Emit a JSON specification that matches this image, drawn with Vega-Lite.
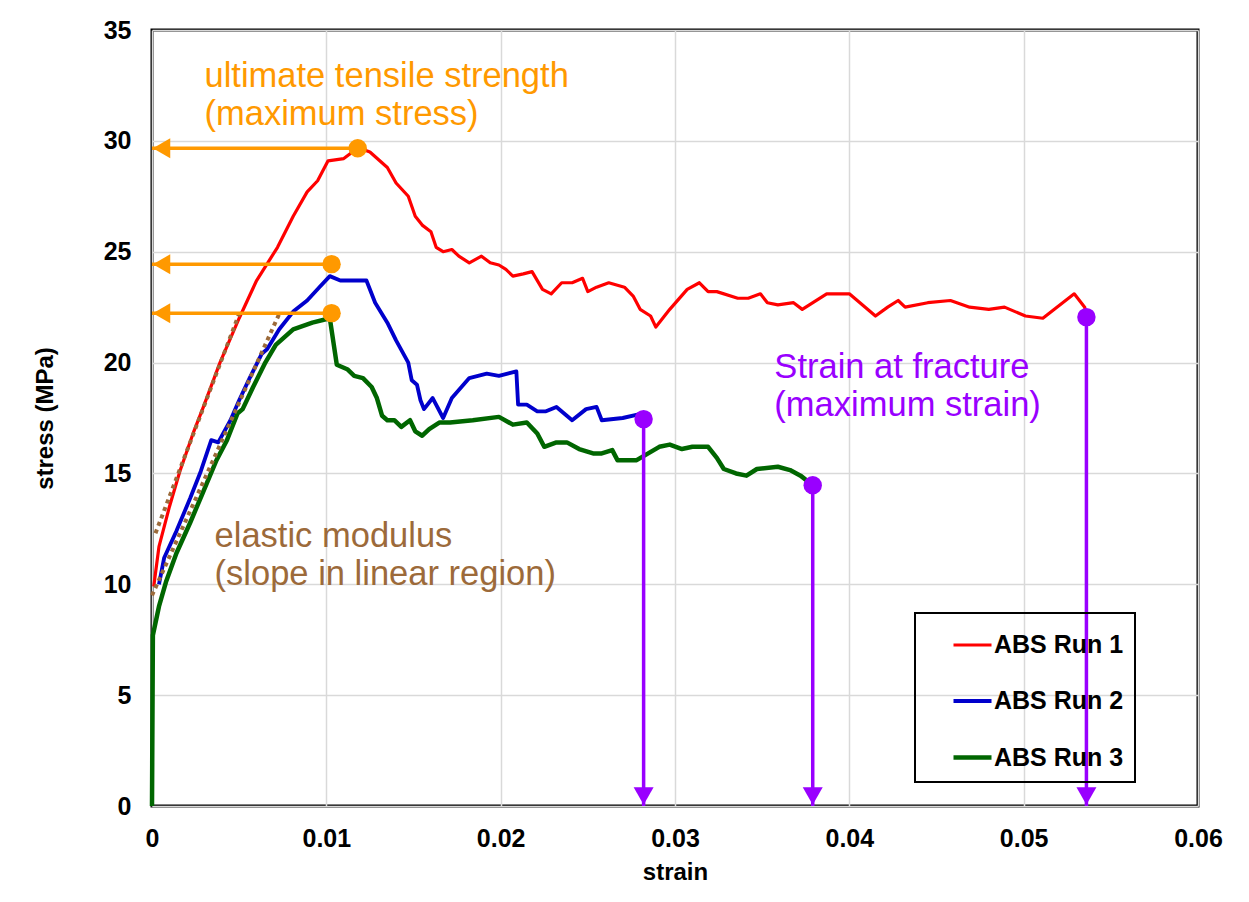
{
  "$schema": "https://vega.github.io/schema/vega-lite/v6.json",
  "width": 1046,
  "height": 776,
  "autosize": "none",
  "padding": {"left": 152, "top": 30, "right": 51, "bottom": 96},
  "background": "white",
  "config": {
    "font": "Liberation Sans",
    "view": {"stroke": "black", "strokeWidth": 3},
    "axis": {
      "labelFont": "Liberation Sans", "labelFontSize": 25, "labelFontWeight": "bold", "labelColor": "black",
      "titleFont": "Liberation Sans", "titleFontSize": 24, "titleFontWeight": "bold", "titleColor": "black",
      "gridColor": "#d9d9d9", "gridWidth": 1.5, "domain": false, "ticks": false, "tickSize": 0, "labelFlush": false
    },
    "legend": {"strokeColor": "black", "strokeWidth": 2}
  },
  "datasets": {
    "curves": [
      {"run": "ABS Run 1", "strain": 0.0001, "stress": 9.9},
      {"run": "ABS Run 1", "strain": 0.0004, "stress": 11.7},
      {"run": "ABS Run 1", "strain": 0.0010, "stress": 13.5},
      {"run": "ABS Run 1", "strain": 0.0016, "stress": 15.1},
      {"run": "ABS Run 1", "strain": 0.0024, "stress": 16.9},
      {"run": "ABS Run 1", "strain": 0.0029, "stress": 17.9},
      {"run": "ABS Run 1", "strain": 0.0039, "stress": 20.0},
      {"run": "ABS Run 1", "strain": 0.0050, "stress": 22.0},
      {"run": "ABS Run 1", "strain": 0.0060, "stress": 23.7},
      {"run": "ABS Run 1", "strain": 0.0072, "stress": 25.2},
      {"run": "ABS Run 1", "strain": 0.0081, "stress": 26.6},
      {"run": "ABS Run 1", "strain": 0.0089, "stress": 27.7},
      {"run": "ABS Run 1", "strain": 0.0095, "stress": 28.2},
      {"run": "ABS Run 1", "strain": 0.0101, "stress": 29.1},
      {"run": "ABS Run 1", "strain": 0.0110, "stress": 29.2},
      {"run": "ABS Run 1", "strain": 0.0115, "stress": 29.5},
      {"run": "ABS Run 1", "strain": 0.0118, "stress": 29.7},
      {"run": "ABS Run 1", "strain": 0.0125, "stress": 29.5},
      {"run": "ABS Run 1", "strain": 0.0135, "stress": 28.8},
      {"run": "ABS Run 1", "strain": 0.0140, "stress": 28.1},
      {"run": "ABS Run 1", "strain": 0.0147, "stress": 27.5},
      {"run": "ABS Run 1", "strain": 0.0151, "stress": 26.6},
      {"run": "ABS Run 1", "strain": 0.0155, "stress": 26.2},
      {"run": "ABS Run 1", "strain": 0.0160, "stress": 25.9},
      {"run": "ABS Run 1", "strain": 0.0163, "stress": 25.2},
      {"run": "ABS Run 1", "strain": 0.0167, "stress": 25.0},
      {"run": "ABS Run 1", "strain": 0.0172, "stress": 25.1},
      {"run": "ABS Run 1", "strain": 0.0176, "stress": 24.8},
      {"run": "ABS Run 1", "strain": 0.0182, "stress": 24.5},
      {"run": "ABS Run 1", "strain": 0.0189, "stress": 24.8},
      {"run": "ABS Run 1", "strain": 0.0194, "stress": 24.5},
      {"run": "ABS Run 1", "strain": 0.0199, "stress": 24.4},
      {"run": "ABS Run 1", "strain": 0.0203, "stress": 24.2},
      {"run": "ABS Run 1", "strain": 0.0207, "stress": 23.9},
      {"run": "ABS Run 1", "strain": 0.0213, "stress": 24.0},
      {"run": "ABS Run 1", "strain": 0.0218, "stress": 24.1},
      {"run": "ABS Run 1", "strain": 0.0224, "stress": 23.3},
      {"run": "ABS Run 1", "strain": 0.0229, "stress": 23.1},
      {"run": "ABS Run 1", "strain": 0.0235, "stress": 23.6},
      {"run": "ABS Run 1", "strain": 0.0241, "stress": 23.6},
      {"run": "ABS Run 1", "strain": 0.0247, "stress": 23.8},
      {"run": "ABS Run 1", "strain": 0.0250, "stress": 23.2},
      {"run": "ABS Run 1", "strain": 0.0255, "stress": 23.4},
      {"run": "ABS Run 1", "strain": 0.0262, "stress": 23.6},
      {"run": "ABS Run 1", "strain": 0.0271, "stress": 23.4},
      {"run": "ABS Run 1", "strain": 0.0276, "stress": 23.0},
      {"run": "ABS Run 1", "strain": 0.0280, "stress": 22.4},
      {"run": "ABS Run 1", "strain": 0.0286, "stress": 22.1},
      {"run": "ABS Run 1", "strain": 0.0289, "stress": 21.6},
      {"run": "ABS Run 1", "strain": 0.0297, "stress": 22.4},
      {"run": "ABS Run 1", "strain": 0.0307, "stress": 23.3},
      {"run": "ABS Run 1", "strain": 0.0314, "stress": 23.6},
      {"run": "ABS Run 1", "strain": 0.0319, "stress": 23.2},
      {"run": "ABS Run 1", "strain": 0.0324, "stress": 23.2},
      {"run": "ABS Run 1", "strain": 0.0336, "stress": 22.9},
      {"run": "ABS Run 1", "strain": 0.0342, "stress": 22.9},
      {"run": "ABS Run 1", "strain": 0.0349, "stress": 23.1},
      {"run": "ABS Run 1", "strain": 0.0353, "stress": 22.7},
      {"run": "ABS Run 1", "strain": 0.0359, "stress": 22.6},
      {"run": "ABS Run 1", "strain": 0.0368, "stress": 22.7},
      {"run": "ABS Run 1", "strain": 0.0373, "stress": 22.4},
      {"run": "ABS Run 1", "strain": 0.0387, "stress": 23.1},
      {"run": "ABS Run 1", "strain": 0.0400, "stress": 23.1},
      {"run": "ABS Run 1", "strain": 0.0415, "stress": 22.1},
      {"run": "ABS Run 1", "strain": 0.0422, "stress": 22.5},
      {"run": "ABS Run 1", "strain": 0.0428, "stress": 22.8},
      {"run": "ABS Run 1", "strain": 0.0432, "stress": 22.5},
      {"run": "ABS Run 1", "strain": 0.0445, "stress": 22.7},
      {"run": "ABS Run 1", "strain": 0.0458, "stress": 22.8},
      {"run": "ABS Run 1", "strain": 0.0469, "stress": 22.5},
      {"run": "ABS Run 1", "strain": 0.0480, "stress": 22.4},
      {"run": "ABS Run 1", "strain": 0.0489, "stress": 22.5},
      {"run": "ABS Run 1", "strain": 0.0501, "stress": 22.1},
      {"run": "ABS Run 1", "strain": 0.0511, "stress": 22.0},
      {"run": "ABS Run 1", "strain": 0.0529, "stress": 23.1},
      {"run": "ABS Run 1", "strain": 0.0535, "stress": 22.5},
      {"run": "ABS Run 1", "strain": 0.0536, "stress": 22.05},
      {"run": "ABS Run 2", "strain": 0.0004, "stress": 10.0},
      {"run": "ABS Run 2", "strain": 0.0007, "stress": 11.2},
      {"run": "ABS Run 2", "strain": 0.0014, "stress": 12.4},
      {"run": "ABS Run 2", "strain": 0.0022, "stress": 13.9},
      {"run": "ABS Run 2", "strain": 0.0028, "stress": 15.1},
      {"run": "ABS Run 2", "strain": 0.0034, "stress": 16.5},
      {"run": "ABS Run 2", "strain": 0.0038, "stress": 16.4},
      {"run": "ABS Run 2", "strain": 0.0045, "stress": 17.4},
      {"run": "ABS Run 2", "strain": 0.0050, "stress": 18.3},
      {"run": "ABS Run 2", "strain": 0.0056, "stress": 19.3},
      {"run": "ABS Run 2", "strain": 0.0063, "stress": 20.4},
      {"run": "ABS Run 2", "strain": 0.0066, "stress": 20.6},
      {"run": "ABS Run 2", "strain": 0.0073, "stress": 21.5},
      {"run": "ABS Run 2", "strain": 0.0081, "stress": 22.3},
      {"run": "ABS Run 2", "strain": 0.0089, "stress": 22.8},
      {"run": "ABS Run 2", "strain": 0.0096, "stress": 23.4},
      {"run": "ABS Run 2", "strain": 0.0102, "stress": 23.9},
      {"run": "ABS Run 2", "strain": 0.0108, "stress": 23.7},
      {"run": "ABS Run 2", "strain": 0.0123, "stress": 23.7},
      {"run": "ABS Run 2", "strain": 0.0128, "stress": 22.7},
      {"run": "ABS Run 2", "strain": 0.0135, "stress": 21.8},
      {"run": "ABS Run 2", "strain": 0.0140, "stress": 21.0},
      {"run": "ABS Run 2", "strain": 0.0147, "stress": 20.0},
      {"run": "ABS Run 2", "strain": 0.0149, "stress": 19.2},
      {"run": "ABS Run 2", "strain": 0.0152, "stress": 19.0},
      {"run": "ABS Run 2", "strain": 0.0154, "stress": 18.3},
      {"run": "ABS Run 2", "strain": 0.0156, "stress": 17.9},
      {"run": "ABS Run 2", "strain": 0.0161, "stress": 18.4},
      {"run": "ABS Run 2", "strain": 0.0167, "stress": 17.5},
      {"run": "ABS Run 2", "strain": 0.0172, "stress": 18.4},
      {"run": "ABS Run 2", "strain": 0.0182, "stress": 19.3},
      {"run": "ABS Run 2", "strain": 0.0192, "stress": 19.5},
      {"run": "ABS Run 2", "strain": 0.0199, "stress": 19.4},
      {"run": "ABS Run 2", "strain": 0.0209, "stress": 19.6},
      {"run": "ABS Run 2", "strain": 0.0210, "stress": 18.1},
      {"run": "ABS Run 2", "strain": 0.0215, "stress": 18.1},
      {"run": "ABS Run 2", "strain": 0.0221, "stress": 17.8},
      {"run": "ABS Run 2", "strain": 0.0226, "stress": 17.8},
      {"run": "ABS Run 2", "strain": 0.0232, "stress": 18.0},
      {"run": "ABS Run 2", "strain": 0.0241, "stress": 17.4},
      {"run": "ABS Run 2", "strain": 0.0249, "stress": 17.9},
      {"run": "ABS Run 2", "strain": 0.0255, "stress": 18.0},
      {"run": "ABS Run 2", "strain": 0.0258, "stress": 17.4},
      {"run": "ABS Run 2", "strain": 0.0270, "stress": 17.5},
      {"run": "ABS Run 2", "strain": 0.0281, "stress": 17.7},
      {"run": "ABS Run 2", "strain": 0.0282, "stress": 17.45},
      {"run": "ABS Run 3", "strain": 0.0, "stress": 0.0},
      {"run": "ABS Run 3", "strain": 0.00005, "stress": 7.7},
      {"run": "ABS Run 3", "strain": 0.0004, "stress": 9.0},
      {"run": "ABS Run 3", "strain": 0.0008, "stress": 10.1},
      {"run": "ABS Run 3", "strain": 0.0014, "stress": 11.4},
      {"run": "ABS Run 3", "strain": 0.0022, "stress": 12.8},
      {"run": "ABS Run 3", "strain": 0.0029, "stress": 14.1},
      {"run": "ABS Run 3", "strain": 0.0037, "stress": 15.6},
      {"run": "ABS Run 3", "strain": 0.0043, "stress": 16.5},
      {"run": "ABS Run 3", "strain": 0.0049, "stress": 17.7},
      {"run": "ABS Run 3", "strain": 0.0052, "stress": 17.9},
      {"run": "ABS Run 3", "strain": 0.0058, "stress": 18.9},
      {"run": "ABS Run 3", "strain": 0.0065, "stress": 20.0},
      {"run": "ABS Run 3", "strain": 0.0071, "stress": 20.8},
      {"run": "ABS Run 3", "strain": 0.0081, "stress": 21.5},
      {"run": "ABS Run 3", "strain": 0.0092, "stress": 21.8},
      {"run": "ABS Run 3", "strain": 0.0102, "stress": 22.0},
      {"run": "ABS Run 3", "strain": 0.0106, "stress": 19.9},
      {"run": "ABS Run 3", "strain": 0.0112, "stress": 19.7},
      {"run": "ABS Run 3", "strain": 0.0116, "stress": 19.4},
      {"run": "ABS Run 3", "strain": 0.0121, "stress": 19.3},
      {"run": "ABS Run 3", "strain": 0.0126, "stress": 18.9},
      {"run": "ABS Run 3", "strain": 0.0129, "stress": 18.4},
      {"run": "ABS Run 3", "strain": 0.0132, "stress": 17.6},
      {"run": "ABS Run 3", "strain": 0.0135, "stress": 17.4},
      {"run": "ABS Run 3", "strain": 0.0139, "stress": 17.4},
      {"run": "ABS Run 3", "strain": 0.0143, "stress": 17.1},
      {"run": "ABS Run 3", "strain": 0.0148, "stress": 17.4},
      {"run": "ABS Run 3", "strain": 0.0151, "stress": 16.9},
      {"run": "ABS Run 3", "strain": 0.0155, "stress": 16.7},
      {"run": "ABS Run 3", "strain": 0.0159, "stress": 17.0},
      {"run": "ABS Run 3", "strain": 0.0165, "stress": 17.3},
      {"run": "ABS Run 3", "strain": 0.0171, "stress": 17.3},
      {"run": "ABS Run 3", "strain": 0.0184, "stress": 17.4},
      {"run": "ABS Run 3", "strain": 0.0199, "stress": 17.55},
      {"run": "ABS Run 3", "strain": 0.0207, "stress": 17.2},
      {"run": "ABS Run 3", "strain": 0.0215, "stress": 17.3},
      {"run": "ABS Run 3", "strain": 0.0221, "stress": 16.8},
      {"run": "ABS Run 3", "strain": 0.0225, "stress": 16.2},
      {"run": "ABS Run 3", "strain": 0.0232, "stress": 16.4},
      {"run": "ABS Run 3", "strain": 0.0238, "stress": 16.4},
      {"run": "ABS Run 3", "strain": 0.0245, "stress": 16.1},
      {"run": "ABS Run 3", "strain": 0.0253, "stress": 15.9},
      {"run": "ABS Run 3", "strain": 0.0258, "stress": 15.9},
      {"run": "ABS Run 3", "strain": 0.0264, "stress": 16.05},
      {"run": "ABS Run 3", "strain": 0.0267, "stress": 15.6},
      {"run": "ABS Run 3", "strain": 0.0278, "stress": 15.6},
      {"run": "ABS Run 3", "strain": 0.0291, "stress": 16.2},
      {"run": "ABS Run 3", "strain": 0.0297, "stress": 16.3},
      {"run": "ABS Run 3", "strain": 0.0304, "stress": 16.1},
      {"run": "ABS Run 3", "strain": 0.0310, "stress": 16.2},
      {"run": "ABS Run 3", "strain": 0.0319, "stress": 16.2},
      {"run": "ABS Run 3", "strain": 0.0324, "stress": 15.7},
      {"run": "ABS Run 3", "strain": 0.0328, "stress": 15.2},
      {"run": "ABS Run 3", "strain": 0.0335, "stress": 15.0},
      {"run": "ABS Run 3", "strain": 0.0341, "stress": 14.9},
      {"run": "ABS Run 3", "strain": 0.0347, "stress": 15.2},
      {"run": "ABS Run 3", "strain": 0.0359, "stress": 15.3},
      {"run": "ABS Run 3", "strain": 0.0366, "stress": 15.15},
      {"run": "ABS Run 3", "strain": 0.0372, "stress": 14.9},
      {"run": "ABS Run 3", "strain": 0.0379, "stress": 14.47}
    ],
    "modulus": [
      {"line": "a", "strain": 0.0002, "stress": 12.3},
      {"line": "a", "strain": 0.0050, "stress": 22.2},
      {"line": "b", "strain": 0.0, "stress": 9.5},
      {"line": "b", "strain": 0.0073, "stress": 22.2}
    ],
    "uts": [
      {"run": "ABS Run 1", "strain": 0.0118, "stress": 29.67},
      {"run": "ABS Run 2", "strain": 0.0103, "stress": 24.44},
      {"run": "ABS Run 3", "strain": 0.0103, "stress": 22.23}
    ],
    "fracture": [
      {"run": "ABS Run 1", "strain": 0.0536, "stress": 22.05},
      {"run": "ABS Run 2", "strain": 0.0282, "stress": 17.45},
      {"run": "ABS Run 3", "strain": 0.0379, "stress": 14.47}
    ]
  },
  "layer": [
    {
      "data": {"name": "curves"},
      "mark": {"type": "line", "strokeJoin": "round"},
      "encoding": {
        "x": {
          "field": "strain", "type": "quantitative",
          "scale": {"domain": [0, 0.06], "nice": false, "zero": false},
          "axis": {"values": [0, 0.01, 0.02, 0.03, 0.04, 0.05, 0.06], "format": "~f", "title": "strain", "labelPadding": 20, "titlePadding": 9}
        },
        "y": {
          "field": "stress", "type": "quantitative",
          "scale": {"domain": [0, 35], "nice": false},
          "axis": {"values": [0, 5, 10, 15, 20, 25, 30, 35], "title": "stress (MPa)", "labelPadding": 21, "titlePadding": 46}
        },
        "strokeWidth": {
          "field": "run", "type": "nominal",
          "scale": {"domain": ["ABS Run 1", "ABS Run 2", "ABS Run 3"], "range": [3.2, 4.5, 4.5]},
          "legend": null
        },
        "color": {
          "field": "run", "type": "nominal",
          "scale": {"domain": ["ABS Run 1", "ABS Run 2", "ABS Run 3"], "range": ["#FF0000", "#0000CC", "#006600"]},
          "legend": {
            "title": null, "orient": "none", "legendX": 763, "legendY": 583,
            "symbolType": "stroke", "symbolSize": 1444, "symbolStrokeWidth": 4.5, "symbolOffset": 25,
            "labelFont": "Liberation Sans", "labelFontSize": 25, "labelFontWeight": "bold", "labelColor": "black",
            "labelOffset": 0, "rowPadding": 22, "padding": 11,
            "labelExpr": "datum.label + '\u00a0\u00a0\u00a0'"
          }
        }
      }
    },
    {
      "data": {"name": "modulus"},
      "mark": {"type": "line", "strokeWidth": 4, "strokeDash": [4, 4], "color": "#9C6A3A"},
      "encoding": {
        "x": {"field": "strain", "type": "quantitative"},
        "y": {"field": "stress", "type": "quantitative"},
        "detail": {"field": "line"}
      }
    },
    {
      "data": {"name": "uts"},
      "mark": {"type": "rule", "strokeWidth": 3.5, "color": "#FF9900"},
      "encoding": {
        "x": {"field": "strain", "type": "quantitative"},
        "x2": {"datum": 0},
        "y": {"field": "stress", "type": "quantitative"}
      }
    },
    {
      "data": {"name": "uts"},
      "mark": {"type": "point", "shape": "triangle-left", "size": 400, "filled": true, "opacity": 1, "color": "#FF9900"},
      "encoding": {
        "x": {"datum": 0.00055},
        "y": {"field": "stress", "type": "quantitative"}
      }
    },
    {
      "data": {"name": "uts"},
      "mark": {"type": "circle", "size": 340, "opacity": 1, "color": "#FF9900"},
      "encoding": {
        "x": {"field": "strain", "type": "quantitative"},
        "y": {"field": "stress", "type": "quantitative"}
      }
    },
    {
      "data": {"name": "fracture"},
      "mark": {"type": "rule", "strokeWidth": 3.5, "color": "#9900FF"},
      "encoding": {
        "x": {"field": "strain", "type": "quantitative"},
        "y": {"field": "stress", "type": "quantitative"},
        "y2": {"datum": 0}
      }
    },
    {
      "data": {"name": "fracture"},
      "mark": {"type": "point", "shape": "triangle-down", "size": 400, "filled": true, "opacity": 1, "color": "#9900FF"},
      "encoding": {
        "x": {"field": "strain", "type": "quantitative"},
        "y": {"datum": 0.45}
      }
    },
    {
      "data": {"name": "fracture"},
      "mark": {"type": "circle", "size": 340, "opacity": 1, "color": "#9900FF"},
      "encoding": {
        "x": {"field": "strain", "type": "quantitative"},
        "y": {"field": "stress", "type": "quantitative"}
      }
    },
    {
      "data": {"values": [
        {"strain": 0.00301, "stress": 32.44, "label": "ultimate tensile strength"},
        {"strain": 0.00301, "stress": 30.72, "label": "(maximum stress)"}
      ]},
      "mark": {"type": "text", "align": "left", "baseline": "alphabetic", "font": "Liberation Sans", "fontSize": 34.5, "color": "#FF9900"},
      "encoding": {
        "x": {"field": "strain", "type": "quantitative"},
        "y": {"field": "stress", "type": "quantitative"},
        "text": {"field": "label"}
      }
    },
    {
      "data": {"values": [
        {"strain": 0.00359, "stress": 11.68, "label": "elastic modulus"},
        {"strain": 0.00359, "stress": 9.97, "label": "(slope in linear region)"}
      ]},
      "mark": {"type": "text", "align": "left", "baseline": "alphabetic", "font": "Liberation Sans", "fontSize": 34.5, "color": "#9C6A3A"},
      "encoding": {
        "x": {"field": "strain", "type": "quantitative"},
        "y": {"field": "stress", "type": "quantitative"},
        "text": {"field": "label"}
      }
    },
    {
      "data": {"values": [
        {"strain": 0.0357, "stress": 19.3, "label": "Strain at fracture"},
        {"strain": 0.0357, "stress": 17.6, "label": "(maximum strain)"}
      ]},
      "mark": {"type": "text", "align": "left", "baseline": "alphabetic", "font": "Liberation Sans", "fontSize": 34.5, "color": "#9900FF"},
      "encoding": {
        "x": {"field": "strain", "type": "quantitative"},
        "y": {"field": "stress", "type": "quantitative"},
        "text": {"field": "label"}
      }
    }
  ]
}
